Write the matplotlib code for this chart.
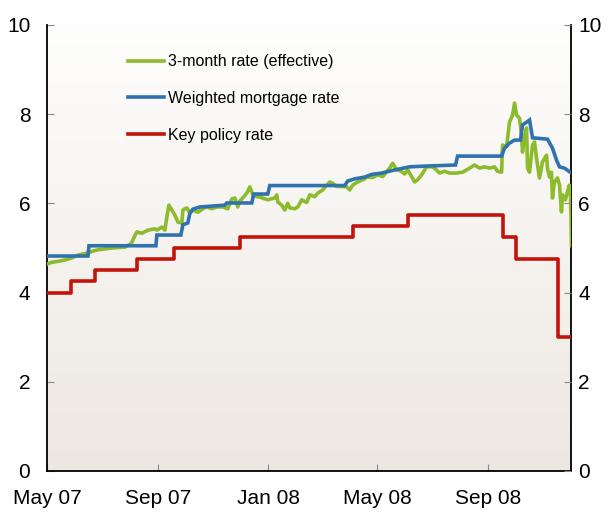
import numpy as np
import pandas as pd
import matplotlib
matplotlib.use("Agg")
import matplotlib.pyplot as plt
import matplotlib.dates as mdates
from matplotlib.colors import LinearSegmentedColormap

plt.rcParams['font.family'] = ['Liberation Sans', 'DejaVu Sans']

start = pd.Timestamp('2007-05-01')

# Key policy rate (step changes): days since 1 May 2007, level
policy_days = [0, 26.6, 53.2, 99.7, 140.6, 213.7, 338.9, 399.8, 506.0, 519.4, 565.9, 581.4]
policy_vals = [4.0, 4.25, 4.5, 4.75, 5.0, 5.25, 5.5, 5.75, 5.25, 4.75, 3.0, 3.0]

# Weighted mortgage rate
mort_days = [0, 45.4, 46.5, 120.7, 121.8, 148.4, 150.6, 156.1, 158.4, 161.7, 169.4, 197.1,
             199.3, 227.0, 229.2, 244.7, 247.0, 330.0, 333.3, 341.1, 352.1, 359.9, 371.0,
             385.4, 402.0, 424.1, 452.9, 455.1, 503.9, 507.2, 512.7, 518.3, 524.9, 527.1,
             531.6, 534.9, 538.2, 554.8, 560.3, 564.8, 568.1, 573.6, 581.4]
mort_vals = [4.82, 4.82, 5.05, 5.05, 5.29, 5.29, 5.52, 5.56, 5.78, 5.87, 5.92, 5.96,
             6.01, 6.01, 6.21, 6.21, 6.40, 6.40, 6.50, 6.55, 6.59, 6.65, 6.68,
             6.75, 6.82, 6.84, 6.86, 7.06, 7.06, 7.24, 7.35, 7.42, 7.42, 7.76,
             7.82, 7.87, 7.47, 7.44, 7.24, 6.97, 6.82, 6.79, 6.68]

# 3-month rate (effective)
m3_days = [0, 5.5, 12.2, 19.9, 27.7, 34.3, 41.0, 45.4, 50.9, 56.5, 64.2, 72.0, 78.6, 86.4,
           91.9, 94.1, 97.5, 99.7, 105.2, 111.9, 119.6, 121.8, 127.4, 130.7, 132.9, 135.1,
           138.4, 141.7, 145.1, 149.5, 150.6, 155.0, 158.4, 161.7, 167.2, 172.8, 177.2,
           182.7, 188.3, 194.9, 200.4, 204.9, 208.2, 211.5, 213.7, 218.2, 221.5, 224.8,
           228.2, 232.6, 235.9, 244.7, 252.5, 254.7, 255.8, 260.2, 263.6, 266.9, 269.1,
           274.6, 278.0, 282.4, 287.9, 291.2, 296.8, 300.1, 305.6, 310.1, 313.4, 316.7,
           321.1, 326.7, 332.2, 335.5, 338.9, 344.4, 352.1, 354.4, 361.0, 366.5, 372.1,
           379.8, 383.2, 387.6, 390.9, 396.5, 399.8, 404.2, 407.5, 410.8, 415.3, 420.8,
           426.3, 429.7, 435.2, 440.7, 446.3, 454.0, 460.7, 465.1, 474.0, 479.5, 485.0,
           490.6, 496.1, 499.4, 503.9, 505.0, 509.4, 512.7, 516.1, 518.3, 520.5, 523.8,
           526.0, 527.1, 529.3, 531.6, 532.7, 534.9, 538.2, 540.4, 542.6, 545.9, 549.3,
           553.7, 554.8, 557.0, 559.2, 560.3, 562.5, 565.9, 568.1, 570.3, 571.4, 574.7,
           576.9, 579.1, 580.3, 581.4]
m3_vals = [4.64, 4.68, 4.70, 4.73, 4.78, 4.84, 4.87, 4.89, 4.93, 4.96, 4.98, 5.00, 5.01, 5.02,
           5.08, 5.13, 5.28, 5.36, 5.33, 5.40, 5.43, 5.40, 5.47, 5.40, 5.70, 5.96,
           5.85, 5.74, 5.58, 5.56, 5.85, 5.90, 5.78, 5.85, 5.80, 5.88, 5.92,
           5.88, 5.92, 5.92, 5.88, 6.10, 6.12, 5.92, 6.05, 6.15, 6.23, 6.37,
           6.19, 6.15, 6.14, 6.08, 6.12, 6.19, 6.03, 5.96, 5.85, 6.00, 5.90,
           5.88, 5.92, 6.08, 6.02, 6.19, 6.15, 6.23, 6.30, 6.41, 6.48, 6.45,
           6.38, 6.38, 6.37, 6.30, 6.41, 6.48, 6.55, 6.59, 6.58, 6.64, 6.60,
           6.79, 6.90, 6.75, 6.74, 6.66, 6.75, 6.60, 6.48, 6.53, 6.64, 6.82,
           6.82, 6.79, 6.68, 6.72, 6.68, 6.68, 6.70, 6.75, 6.86, 6.79, 6.82,
           6.79, 6.82, 6.72, 6.70, 7.31, 7.27, 7.82, 7.98, 8.25, 7.98, 7.91,
           7.53, 7.15, 7.50, 7.69, 6.79, 6.70, 7.31, 7.38, 7.02, 6.57, 6.93,
           7.08, 6.79, 6.59, 6.70, 6.12, 6.48, 6.57, 6.41, 5.81, 6.19, 6.08,
           6.26, 6.41, 6.20, 5.05]

x_end_days = 581.4
tick_dates = ['2007-05-01', '2007-09-01', '2008-01-01', '2008-05-01', '2008-09-01']
tick_labels = ['May 07', 'Sep 07', 'Jan 08', 'May 08', 'Sep 08']
y_ticks = [0, 2, 4, 6, 8, 10]

labels = ['3-month rate (effective)', 'Weighted mortgage rate', 'Key policy rate']
colors = ['#8cbb2b', '#2f72ad', '#c3140b']


def to_dates(days):
    return start + pd.to_timedelta(np.array(days), unit='D')


fig = plt.figure(figsize=(6.12, 5.12), dpi=100)
ax = fig.add_axes([0.0768, 0.0801, 0.857, 0.8711])

x0 = mdates.date2num(start)
x1 = mdates.date2num(start + pd.Timedelta(days=x_end_days))

# background gradient: light at top, warm beige at bottom
cmap = LinearSegmentedColormap.from_list('bg', ['#fefefd', '#ede7e1'])
grad = np.linspace(1, 0, 256).reshape(-1, 1)
ax.imshow(grad, cmap=cmap, extent=[x0, x1, 0, 10], origin='lower', aspect='auto',
          zorder=0, interpolation='bilinear')
ax.set_xlim(x0, x1)
ax.set_ylim(0, 10)

lw = 2.6
ax.plot(to_dates(m3_days), m3_vals, color=colors[0], lw=lw, label=labels[0], zorder=3,
        solid_joinstyle='round')
ax.plot(to_dates(mort_days), mort_vals, color=colors[1], lw=lw, label=labels[1], zorder=4,
        solid_joinstyle='miter')
ax.step(to_dates(policy_days), policy_vals, where='post', color=colors[2], lw=lw,
        label=labels[2], zorder=4)

for s in ['left', 'right', 'bottom']:
    ax.spines[s].set_linewidth(1.3)
    ax.spines[s].set_color('black')
ax.spines['top'].set_visible(False)

ax.set_xticks([mdates.date2num(pd.Timestamp(d)) for d in tick_dates])
ax.set_xticklabels(tick_labels)
ax.set_yticks(y_ticks)
ax.tick_params(axis='x', direction='in', length=5, color='#888888', labelsize=15, pad=13)
ax.tick_params(axis='y', direction='in', length=5, color='#888888', labelsize=15, pad=12,
               left=True, right=False)

ax2 = ax.twinx()
ax2.set_ylim(0, 10)
ax2.set_yticks(y_ticks)
ax2.tick_params(axis='y', direction='in', length=5, color='#888888', labelsize=15, pad=5)
for s in ax2.spines.values():
    s.set_visible(False)

leg = ax.legend(loc='upper left', bbox_to_anchor=(0.154, 0.934), frameon=False,
                fontsize=11.5, handlelength=2.25, handletextpad=0.25, labelspacing=1.35,
                borderpad=0, borderaxespad=0)
for h in leg.get_lines():
    h.set_linewidth(2.6)

fig.savefig('out.png', dpi=100)
